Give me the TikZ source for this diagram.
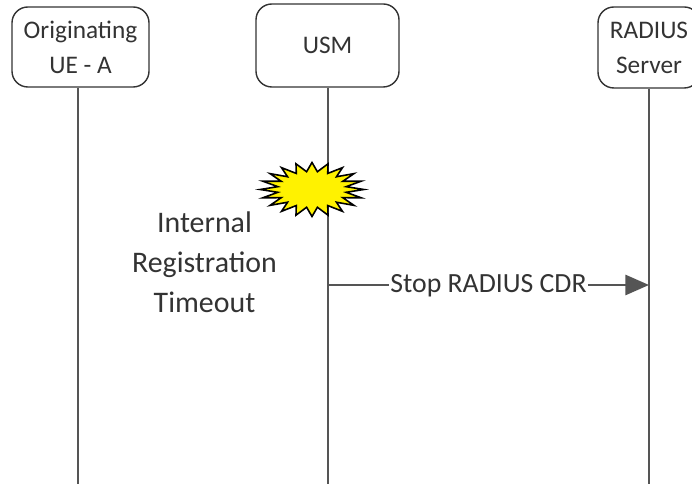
\documentclass[tikz,border=0pt]{standalone}
\usepackage{fontspec}
\setmainfont{Carlito}
\usetikzlibrary{arrows.meta,shapes.geometric}
\definecolor{linegray}{HTML}{555555}
\definecolor{textgray}{HTML}{333333}
\tikzset{
	entity/.style={draw=black!80,line width=0.8pt,rounded corners=9pt,inner sep=0pt,align=center,text=textgray,font=\fontsize{14.4}{20}\selectfont},
	lifeline/.style={draw=linegray,line width=1.35pt},
	message/.style={lifeline,-{Triangle[length=13.5pt,width=11.5pt]}},
	msglabel/.style={fill=white,inner sep=1pt,text=textgray,font=\fontsize{15.8}{19}\selectfont}
}
\begin{document}
\begin{tikzpicture}
	\useasboundingbox (0,0) rectangle (13.84,9.68);
	\clip (0,0) rectangle (13.84,9.68);
	\node[entity,minimum width=2.74cm,minimum height=1.6cm] (UE) at (1.61,8.74) {Originating\\UE - A};
	\node[entity,minimum width=2.86cm,minimum height=1.66cm] (USM) at (6.55,8.77) {USM};
	\node[entity,minimum width=2.04cm,minimum height=1.62cm] (RADIUS) at (12.98,8.73) {RADIUS\\Server};
	\coordinate (UEend) at (1.56,0);
	\coordinate (USMend) at (6.56,0);
	\coordinate (RADIUSend) at (12.98,0);
	\coordinate (MsgA) at (6.56,3.98);
	\coordinate (MsgB) at (12.98,3.98);
	\draw[lifeline] (UE.south -| UEend) -- (UEend);
	\draw[lifeline] (USM.south -| USMend) -- (USMend);
	\draw[lifeline] (RADIUS.south -| RADIUSend) -- (RADIUSend);
	\node[star,star points=20,star point ratio=1.5,draw=black,fill=yellow,line width=0.9pt,inner sep=0pt,minimum size=1.08cm,xscale=1.92] (Burst) at (6.24,5.89) {};
	\node[align=center,text=textgray,font=\fontsize{17}{22.7}\selectfont] (Timeout) at (4.09,4.44) {Internal\\Registration\\Timeout};
	\draw[message] (MsgA) -- node[msglabel,yshift=-0.5pt] (MsgLabel) {Stop RADIUS CDR} (MsgB);
\end{tikzpicture}
\end{document}
